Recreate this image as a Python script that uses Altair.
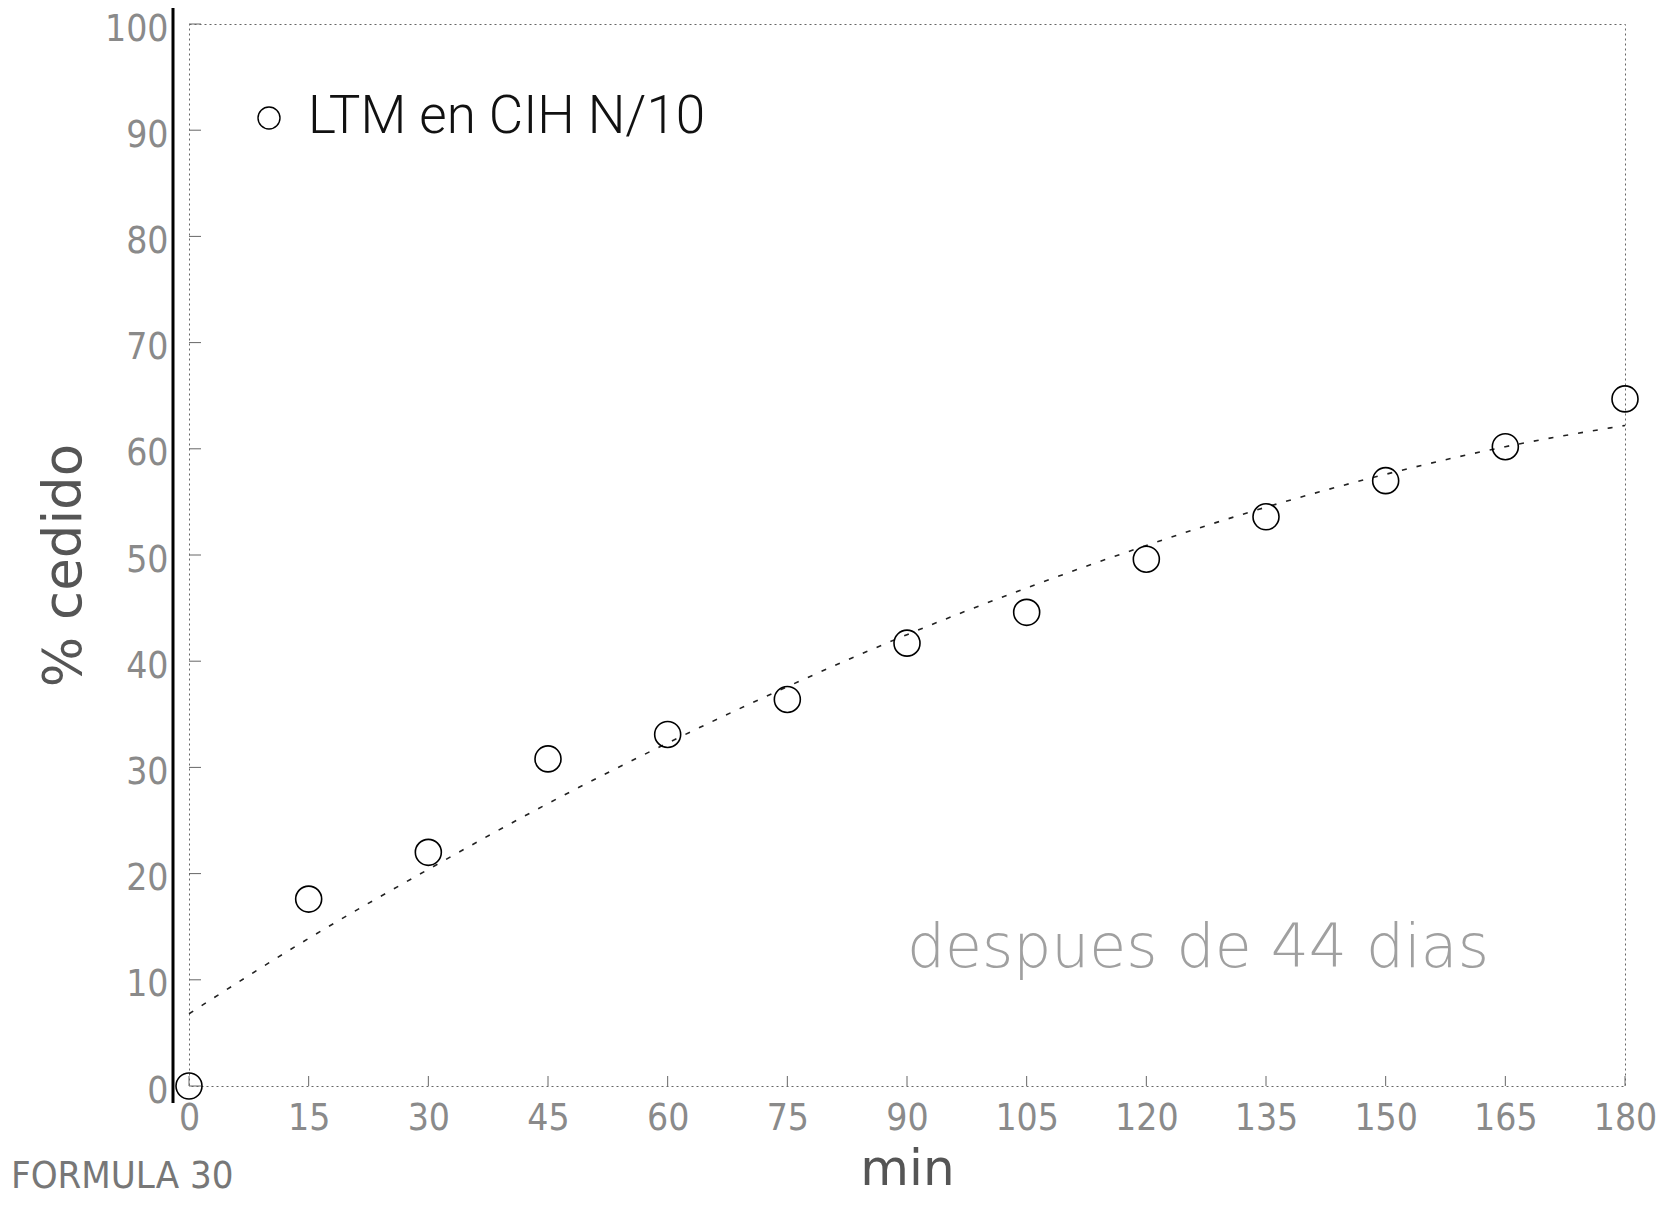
import altair as alt
import pandas as pd

# ---- data ----
minutes = [0, 15, 30, 45, 60, 75, 90, 105, 120, 135, 150, 165, 180]
cedido = [0.0, 17.6, 22.0, 30.8, 33.1, 36.4, 41.7, 44.6, 49.6, 53.6, 57.0, 60.2, 64.7]
ajuste = [6.8, 13.9, 20.4, 26.6, 32.3, 37.6, 42.5, 46.9, 50.9, 54.5, 57.6, 60.2, 62.2]
y_ticks = [0, 10, 20, 30, 40, 50, 60, 70, 80, 90, 100]
x_ticks = minutes
legend_label = ["LTM en CIH N/10"]
note_label = ["despues de 44 dias"]
footer_label = ["FORMULA 30"]
y_title = "% cedido"
x_title = "min"

W, H = 1436, 1062
NARROW = "Liberation Sans Narrow, DejaVu Sans Condensed, Liberation Sans, sans-serif"

pts = pd.DataFrame({"min": minutes, "cedido": cedido})
fit = pd.DataFrame({"min": minutes, "ajuste": ajuste})
yt = pd.DataFrame({"v": y_ticks})
xt = pd.DataFrame({"v": x_ticks})

xs = alt.Scale(domain=[0, 180], nice=False, zero=False)
ys = alt.Scale(domain=[0, 100], nice=False)

x_axis = alt.Axis(values=x_ticks, title=x_title, grid=False, domain=False, ticks=False,
                  labelPadding=14, labelFlush=False, titleY=108, titleBaseline="bottom",
                  titleFont="DejaVu Sans", titleFontSize=50, titleFontWeight="normal",
                  titleColor="#555")
y_axis = alt.Axis(values=y_ticks, title=y_title, grid=False, domain=False, ticks=False,
                  labelPadding=21, labelFlush=False, labelOffset=5,
                  titleX=-125, titleY=541, titleBaseline="middle",
                  titleAlign="center", titleAngle=270,
                  titleFont="DejaVu Sans", titleFontSize=53, titleFontWeight="normal",
                  titleColor="#555")

points = alt.Chart(pts).mark_point(shape="circle", filled=False, size=676,
                                   color="black", strokeWidth=1.6, opacity=1).encode(
    x=alt.X("min:Q", scale=xs, axis=x_axis),
    y=alt.Y("cedido:Q", scale=ys, axis=y_axis),
)

line = alt.Chart(fit).mark_line(color="#222", strokeWidth=1.6, strokeDash=[5, 10],
                                interpolate="monotone").encode(
    x=alt.X("min:Q", scale=xs),
    y=alt.Y("ajuste:Q", scale=ys),
)

ytick_marks = alt.Chart(yt).mark_rule(color="#666", strokeWidth=1).encode(
    y=alt.Y("v:Q", scale=ys), x=alt.value(0), x2=alt.value(12))
xtick_marks = alt.Chart(xt).mark_rule(color="#666", strokeWidth=1).encode(
    x=alt.X("v:Q", scale=xs), y=alt.value(H), y2=alt.value(H - 10))

thick = alt.Chart(pd.DataFrame({"a": [0]})).mark_rule(color="black", strokeWidth=3).encode(
    x=alt.value(-16), y=alt.value(-16), y2=alt.value(1079))

leg_circle = alt.Chart(pd.DataFrame({"a": [0]})).mark_point(
    shape="circle", filled=False, size=484, color="black", strokeWidth=1.4, opacity=1).encode(
    x=alt.value(80), y=alt.value(94))
leg_text = alt.Chart(pd.DataFrame({"t": legend_label})).mark_text(
    align="left", baseline="alphabetic", font="Roboto", fontSize=53, fontWeight=300,
    color="#111").encode(x=alt.value(119), y=alt.value(109), text="t:N")

note = alt.Chart(pd.DataFrame({"t": note_label})).mark_text(
    align="left", baseline="alphabetic", font="DejaVu Sans", fontSize=60, fontWeight=300,
    color="#a0a0a0").encode(x=alt.value(718), y=alt.value(943), text="t:N")

footer = alt.Chart(pd.DataFrame({"t": footer_label})).mark_text(
    align="left", baseline="bottom", font=NARROW, fontSize=38,
    color="#777").encode(x=alt.value(-178), y=alt.value(1172), text="t:N")

chart = alt.layer(thick, ytick_marks, xtick_marks, line, points,
                  leg_circle, leg_text, note, footer).properties(
    width=W, height=H,
    padding={"left": 181, "top": 16, "right": 33, "bottom": 112},
    autosize="none",
    background="white",
).configure_view(
    stroke="#666", strokeWidth=1, strokeDash=[2, 3]
).configure_axis(
    labelFont=NARROW, labelFontSize=37, labelColor="#8a8a8a", labelFontWeight="normal",
)

chart.save("out.html", embed_options={"renderer": "svg", "actions": False})
